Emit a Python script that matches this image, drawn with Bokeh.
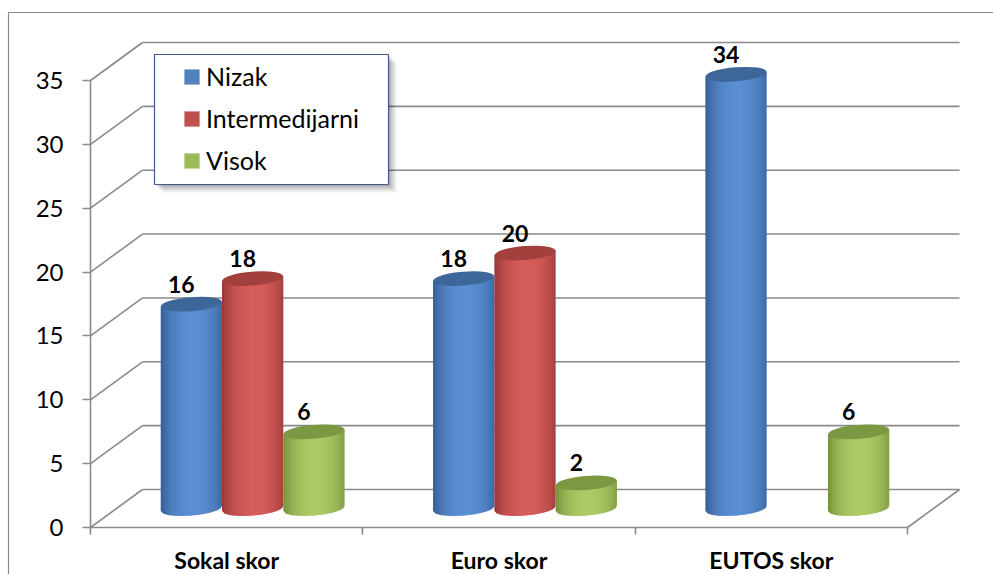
import math
from bokeh.plotting import figure
from bokeh.models import Range1d, LinearAxis, FixedTicker, Legend, LegendItem
from bokeh.core.properties import value
from bokeh.embed import file_html
from bokeh.resources import INLINE

# ---- data -------------------------------------------------------------
categories = ["Sokal skor", "Euro skor", "EUTOS skor"]
series_names = ["Nizak", "Intermedijarni", "Visok"]
nizak = [16, 18, 34]
intermedijarni = [18, 20, None]
visok = [6, 2, 6]
y_ticks = [0, 5, 10, 15, 20, 25, 30, 35]

series_values = [nizak, intermedijarni, visok]

# ---- colours ----------------------------------------------------------
legend_colors = ["#4f81bd", "#c0504d", "#9bbb59"]
edge_colors = ["#2c5185", "#872f2d", "#68812f"]
light_colors = ["#5a8fd3", "#d65c59", "#abcb66"]
top_colors = ["#3d6699", "#a2403e", "#7c9842"]
GRID = "#8a8a8a"
FONT = "Lato"

# ---- layout of the 3D box (screen pixels) -----------------------------
W, H = 993, 574
AX_X0, AX_Y0 = 90, 527          # front-left corner of the floor
PX_X = 817 / 3                  # px per category on the front edge
PX_Y = 447 / 35                 # px per unit of value
DEPTH_X, DEPTH_Y = 52, 38       # offset of the back wall

DX = DEPTH_X / PX_X
DY = DEPTH_Y / PX_Y
BAR_W = 61.3 / PX_X
ELL_H = 14 / PX_Y
TILT = 0.08
N_STRIPS = 32


def sx(px):
    return (px - AX_X0) / PX_X


def sy(py):
    return (AX_Y0 - py) / PX_Y


def mix(c1, c2, t):
    a = [int(c1[i:i + 2], 16) for i in (1, 3, 5)]
    b = [int(c2[i:i + 2], 16) for i in (1, 3, 5)]
    return "#%02x%02x%02x" % tuple(round(a[k] + (b[k] - a[k]) * t) for k in range(3))


p = figure(width=W, height=H,
           x_range=Range1d(sx(0), sx(W)), y_range=Range1d(sy(H), sy(0)),
           output_backend="svg", toolbar_location=None,
           x_axis_location=None, y_axis_location=None,
           min_border=0, min_border_left=0, min_border_right=0,
           min_border_top=0, min_border_bottom=0,
           outline_line_color=None,
           background_fill_color="white", border_fill_color="white")
p.grid.visible = False

n_cat = len(categories)

# chart area border
p.line(x=[sx(8), sx(8), sx(W + 10)], y=[sy(H + 10), sy(12), sy(12)],
       line_color=GRID, line_width=1.2)

# back wall gridlines, left wall diagonals and right floor edge
back_y = [t + DY for t in y_ticks]
p.segment(x0=[DX] * len(y_ticks), y0=back_y,
          x1=[n_cat + DX] * len(y_ticks), y1=back_y,
          line_color=GRID, line_width=1.6)
p.segment(x0=[0] * len(y_ticks), y0=y_ticks,
          x1=[DX] * len(y_ticks), y1=back_y,
          line_color=GRID, line_width=1.6)
p.segment(x0=[n_cat], y0=[0], x1=[n_cat + DX], y1=[DY],
          line_color=GRID, line_width=1.6)

# cylinders: shaded vertical strips (each overlapping the next) plus an elliptical top
tilt_slope = (BAR_W / 2 * PX_X * math.tan(TILT)) / PX_Y
strip_xs, strip_ys, strip_cols = [], [], []
top_x, top_y, top_c = [], [], []
lab_x, lab_y, lab_t = [], [], []


def ybottom(yb, u):
    return yb + u * tilt_slope - ELL_H / 2 * math.sqrt(max(0.0, 1 - u * u))


for s, vals in enumerate(series_values):
    for i, v in enumerate(vals):
        if v is None:
            continue
        cx = i + 0.5 + DX / 2 + (s - 1) * BAR_W
        yb = DY / 2
        yt = yb + v
        for k in range(N_STRIPS):
            u0 = -1 + 2 * k / N_STRIPS
            u1 = min(1.0, u0 + 3 / N_STRIPS)
            um = u0 + 1 / N_STRIPS
            x0 = cx + u0 * BAR_W / 2
            x1 = cx + u1 * BAR_W / 2
            strip_xs.append([x0, x1, x1, x0])
            strip_ys.append([ybottom(yb, u0), ybottom(yb, u1),
                             yt + u1 * tilt_slope, yt + u0 * tilt_slope])
            shade = max(0.0, 1 - ((um - 0.05) / 1.1) ** 2) ** 0.7
            strip_cols.append(mix(edge_colors[s], light_colors[s], shade))
        top_x.append(cx)
        top_y.append(yt)
        top_c.append(top_colors[s])
        lab_x.append(cx)
        lab_y.append(yt + 20 / PX_Y)
        lab_t.append(str(v))

p.patches(xs=strip_xs, ys=strip_ys, fill_color=strip_cols, line_color=None)
p.ellipse(x=top_x, y=top_y, width=BAR_W, height=ELL_H, angle=TILT,
          fill_color=top_c, line_color=None)

# value labels
p.text(x=lab_x, y=lab_y, text=lab_t, x_offset=-10,
       text_align="center", text_baseline="alphabetic",
       text_font=value(FONT), text_font_style="bold",
       text_font_size="23px", text_color="black")

# axes on the front edges of the box
yaxis = LinearAxis(fixed_location=0, bounds=(0, y_ticks[-1]),
                   ticker=FixedTicker(ticks=y_ticks))
yaxis.axis_line_color = GRID
yaxis.axis_line_width = 1.6
yaxis.major_tick_line_color = GRID
yaxis.major_tick_line_width = 1.6
yaxis.major_tick_out = 8
yaxis.major_tick_in = 0
yaxis.minor_tick_line_color = None
yaxis.major_label_standoff = 19
yaxis.major_label_text_font = FONT
yaxis.major_label_text_font_size = "24px"
yaxis.major_label_text_color = "black"
p.add_layout(yaxis, "left")

cat_pos = [i + 0.5 for i in range(n_cat)]
xaxis = LinearAxis(fixed_location=0, bounds=(0, n_cat),
                   ticker=FixedTicker(ticks=cat_pos,
                                      minor_ticks=list(range(n_cat + 1))))
xaxis.major_label_overrides = {c: name for c, name in zip(cat_pos, categories)}
xaxis.axis_line_color = GRID
xaxis.axis_line_width = 1.6
xaxis.major_tick_line_color = None
xaxis.major_tick_out = 0
xaxis.major_tick_in = 0
xaxis.minor_tick_line_color = GRID
xaxis.minor_tick_line_width = 1.6
xaxis.minor_tick_out = 7
xaxis.minor_tick_in = 0
xaxis.major_label_standoff = 11
xaxis.major_label_text_font = FONT
xaxis.major_label_text_font_style = "bold"
xaxis.major_label_text_font_size = "23px"
xaxis.major_label_text_color = "black"
p.add_layout(xaxis, "below")

# legend box with a soft drop shadow
LX0, LX1, LY0, LY1 = 154, 388, 54, 184
for off, alpha in [(8, 0.06), (6, 0.08), (4, 0.10), (2, 0.12)]:
    p.quad(left=[sx(LX0 + off)], right=[sx(LX1 + off)],
           top=[sy(LY0 + off)], bottom=[sy(LY1 + off)],
           fill_color="#000000", fill_alpha=alpha, line_color=None)
p.quad(left=[sx(LX0)], right=[sx(LX1)], top=[sy(LY0)], bottom=[sy(LY1)],
       fill_color="white", line_color="#3e5f8e", line_width=1.2)

# legend swatches come from renderers whose only quad lies outside the view
items = []
for name, col in zip(series_names, legend_colors):
    r = p.quad(left=[sx(W + 100)], right=[sx(W + 110)],
               top=[sy(-100)], bottom=[sy(-90)],
               fill_color=col, line_color=None)
    items.append(LegendItem(label=name, renderers=[r]))

legend = Legend(items=items, location=(182, 399),
                orientation="vertical", margin=0, padding=0,
                spacing=12, glyph_width=19, glyph_height=19,
                label_standoff=5, label_height=19,
                label_text_font=FONT, label_text_font_size="25px",
                label_text_color="black",
                background_fill_alpha=0, border_line_color=None)
p.add_layout(legend, "center")

open("out.html", "w").write(file_html(p, INLINE))
